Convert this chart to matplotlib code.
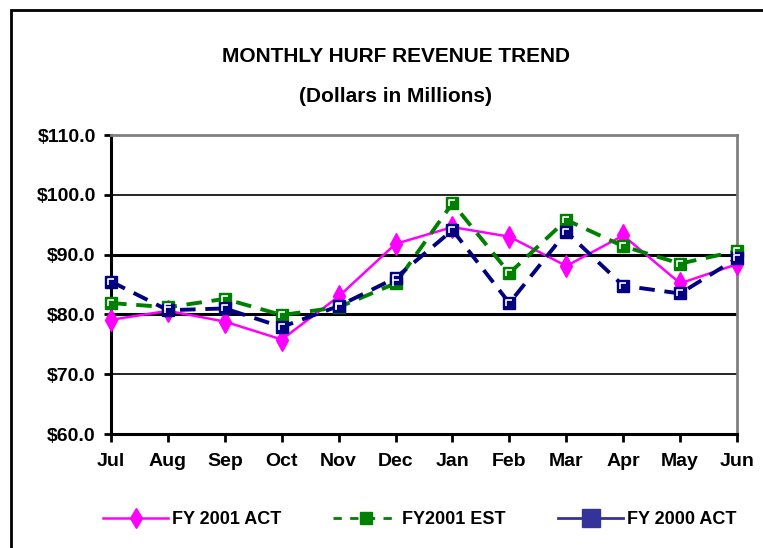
import matplotlib
matplotlib.use("Agg")
import matplotlib.pyplot as plt
from matplotlib.lines import Line2D
from matplotlib.patches import Rectangle

plt.rcParams["font.family"] = ["Liberation Sans Narrow", "Liberation Sans", "DejaVu Sans"]
plt.rcParams["font.weight"] = "bold"

months = ["Jul", "Aug", "Sep", "Oct", "Nov", "Dec", "Jan", "Feb", "Mar", "Apr", "May", "Jun"]
fy2001_act = [79.1, 80.6, 78.8, 75.8, 83.0, 91.8, 94.6, 93.0, 88.1, 93.2, 85.2, 88.4]
fy2001_est = [81.9, 81.2, 82.6, 79.9, 81.2, 85.2, 98.6, 86.9, 95.8, 91.4, 88.5, 90.6]
fy2000_act = [85.5, 80.7, 81.0, 77.9, 81.4, 86.1, 94.1, 81.9, 93.8, 84.8, 83.5, 89.4]
y_ticks = [60, 70, 80, 90, 100, 110]

MAGENTA = "#ff00ff"
GREEN = "#008000"
NAVY = "#000080"

fig = plt.figure(figsize=(7.63, 5.48), dpi=100)
ax = fig.add_axes([0.1455, 0.208, 0.8205, 0.5456])

# outer frame of the chart area (cut off at right / bottom like the original)
fig.patches.append(Rectangle((11 / 763, -0.05), 1.1, 1 - 10 / 548 + 0.05,
                             transform=fig.transFigure, fill=False,
                             edgecolor="black", linewidth=2))

x = list(range(len(months)))

# gridlines
for v in [70, 100]:
    ax.axhline(v, color="black", linewidth=1.2, zorder=1)
for v in [80, 90]:
    ax.axhline(v, color="black", linewidth=2.2, zorder=1)

ax.plot(x, fy2001_act, color=MAGENTA, linewidth=1.8, marker="d",
        markersize=11, markeredgecolor=MAGENTA, zorder=3, clip_on=False)
ax.plot(x, fy2001_est, color=GREEN, linewidth=2.8, dashes=(4, 2.5),
        marker="s", markersize=9, markerfacecolor=GREEN,
        markeredgecolor=GREEN, zorder=4, clip_on=False)
ax.plot(x, fy2000_act, color=NAVY, linewidth=2.8, dashes=(4, 2.5),
        marker="s", markersize=9, markerfacecolor=NAVY,
        markeredgecolor=NAVY, zorder=5, clip_on=False)
# small white highlight inside the square markers
for vals in (fy2001_est, fy2000_act):
    ax.plot(x, vals, linestyle="none", marker=[(-1, -1), (-1, 1), (1, 1)],
            markersize=5, markeredgecolor="white", markerfacecolor="none",
            markeredgewidth=1.2, zorder=6, clip_on=False)

ax.set_xlim(0, len(months) - 1)
ax.set_ylim(60, 110)
ax.set_yticks(y_ticks)
ax.set_yticklabels([f"${v:.1f}" for v in y_ticks], fontsize=14, fontweight="bold")
ax.set_xticks(x)
ax.set_xticklabels(months, fontsize=14, fontweight="bold")
ax.tick_params(axis="y", direction="out", length=5, width=2, pad=6)
ax.tick_params(axis="x", direction="out", length=6, width=2, pad=8)

for side in ["left", "bottom"]:
    ax.spines[side].set_linewidth(2.2)
    ax.spines[side].set_color("black")
for side in ["top", "right"]:
    ax.spines[side].set_linewidth(2)
    ax.spines[side].set_color("#808080")

fig.text(0.519, 1 - 57 / 548, "MONTHLY HURF REVENUE TREND", ha="center",
         va="center", fontsize=15, fontweight="bold")
fig.text(0.519, 1 - 96 / 548, "(Dollars in Millions)", ha="center",
         va="center", fontsize=15, fontweight="bold")

handles = [
    Line2D([], [], color=MAGENTA, linewidth=1.8, marker="d", markersize=10),
    Line2D([], [], color=GREEN, linewidth=2, dashes=(3, 3), marker="s",
           markersize=8),
    Line2D([], [], color="#333399", linewidth=2, marker="s", markersize=13),
]
labels = ["FY 2001 ACT", "FY2001 EST", "FY 2000 ACT"]
fig.legend(handles, labels, loc="center", bbox_to_anchor=(0.55, 1 - 520 / 548),
           ncol=3, frameon=False, handlelength=3.6, handletextpad=0.2,
           columnspacing=2.9, prop={"weight": "bold", "size": 13})

fig.savefig("out.png", dpi=100)
